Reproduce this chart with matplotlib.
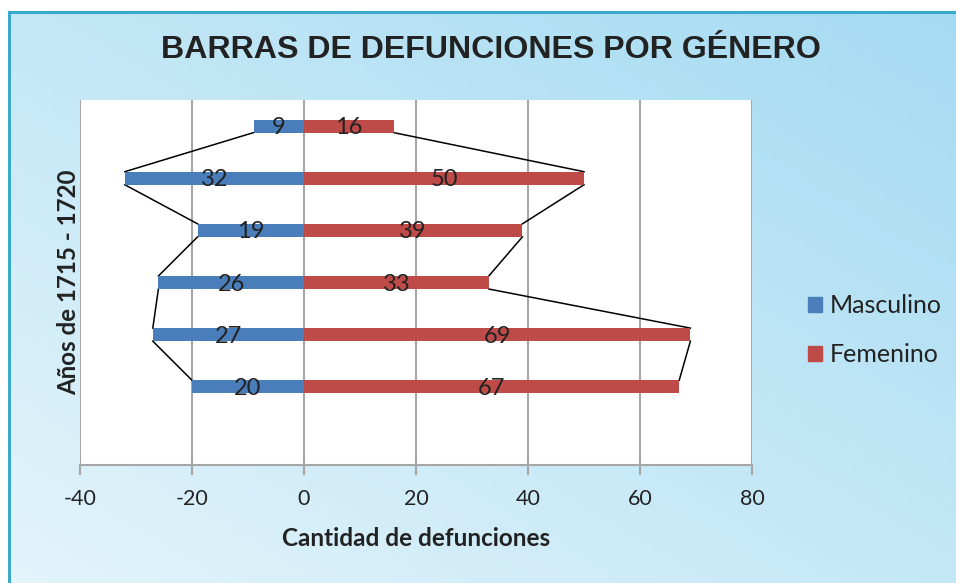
import matplotlib
matplotlib.use('Agg')

import numpy as np
import matplotlib.pyplot as plt
from matplotlib.colors import LinearSegmentedColormap
from matplotlib.patches import Rectangle
from matplotlib.lines import Line2D

# Data (top to bottom as drawn)
years = ['1715', '1716', '1717', '1718', '1719', '1720']
masculino = [9, 32, 19, 26, 27, 20]
femenino = [16, 50, 39, 33, 69, 67]
xticks = [-40, -20, 0, 20, 40, 60, 80]

blue = '#4A7EBB'
red = '#BE4B48'
grid_c = '#A6A6A6'
txt_c = '#222222'

fig = plt.figure(figsize=(9.56, 5.83), dpi=100)
fig.patch.set_facecolor('white')

# background gradient (light bottom-left -> darker top-right)
bg = fig.add_axes([9/956, 0, 1 - 9/956, 1 - 12/583], zorder=0)
u = np.linspace(0, 1, 200)
v = np.linspace(0, 1, 120)
U, V = np.meshgrid(u, v)
grad = (U + V) / 2
cmap = LinearSegmentedColormap.from_list('bg', ['#E3F4FB', '#A5DBF2'])
bg.imshow(grad, cmap=cmap, origin='lower', aspect='auto', extent=[0, 1, 0, 1])
bg.set_axis_off()

# top and left border
fig.add_artist(Line2D([9/956, 1], [1 - 12/583, 1 - 12/583], color='#3BA9CB', lw=2.2))
fig.add_artist(Line2D([9/956, 9/956], [0, 1 - 12/583], color='#3BA9CB', lw=2.2))

ax = fig.add_axes([80/956, 1 - 465/583, (752 - 80)/956, (465 - 100)/583], zorder=1)
ax.set_facecolor('white')

y = np.arange(len(years))
h = 0.25
neg = [-m for m in masculino]
ax.barh(y, neg, height=h, color=blue, zorder=3, label='Masculino')
ax.barh(y, femenino, height=h, color=red, zorder=3, label='Femenino')

# series lines connecting bar ends
for i in range(len(years) - 1):
    ax.plot([neg[i], neg[i + 1]], [y[i] + h / 2, y[i + 1] - h / 2],
            color='black', lw=1.1, zorder=2)
    ax.plot([femenino[i], femenino[i + 1]], [y[i] + h / 2, y[i + 1] - h / 2],
            color='black', lw=1.1, zorder=2)

# data labels
for i in range(len(years)):
    ax.text(neg[i] / 2, y[i] + 0.03, str(masculino[i]), ha='center', va='center',
            fontsize=17, color=txt_c, family='Lato', zorder=4)
    ax.text(femenino[i] / 2, y[i] + 0.03, str(femenino[i]), ha='center', va='center',
            fontsize=17, color=txt_c, family='Lato', zorder=4)

ax.set_xlim(-40, 80)
ax.set_ylim(6.5, -0.5)
ax.set_xticks(xticks)
ax.set_xticklabels([str(t) for t in xticks], fontsize=15.5, family='Lato', color=txt_c)
ax.set_yticks([])
ax.grid(axis='x', color=grid_c, lw=1.5, zorder=1)
for s in ['top', 'right', 'left']:
    ax.spines[s].set_visible(False)
ax.spines['bottom'].set_color(grid_c)
ax.spines['bottom'].set_linewidth(1.5)
ax.tick_params(axis='x', length=7, width=1.5, color=grid_c, pad=10)

ax.set_xlabel('Cantidad de defunciones', fontsize=17.5, fontweight='bold',
              family='Lato', color=txt_c, labelpad=13)
ax.set_ylabel('Años de 1715 - 1720', fontsize=17.3, fontweight='bold',
              family='Lato', color=txt_c, labelpad=0)

fig.text(491/956, 1 - 50/583, 'BARRAS DE DEFUNCIONES POR GÉNERO', ha='center',
         va='center', fontsize=23.1, fontweight='bold',
         family='Liberation Sans', color=txt_c)

leg = fig.legend(handles=[Rectangle((0, 0), 1, 1, color=blue),
                          Rectangle((0, 0), 1, 1, color=red)],
                 labels=['Masculino', 'Femenino'],
                 loc='center left', bbox_to_anchor=(808/956, 1 - 330/583),
                 frameon=False, prop={'family': 'Lato', 'size': 18},
                 borderpad=0, borderaxespad=0,
                 handlelength=0.55, handleheight=0.55, handletextpad=0.3,
                 labelspacing=1.05, labelcolor=txt_c)

fig.savefig('out.png', dpi=100)
